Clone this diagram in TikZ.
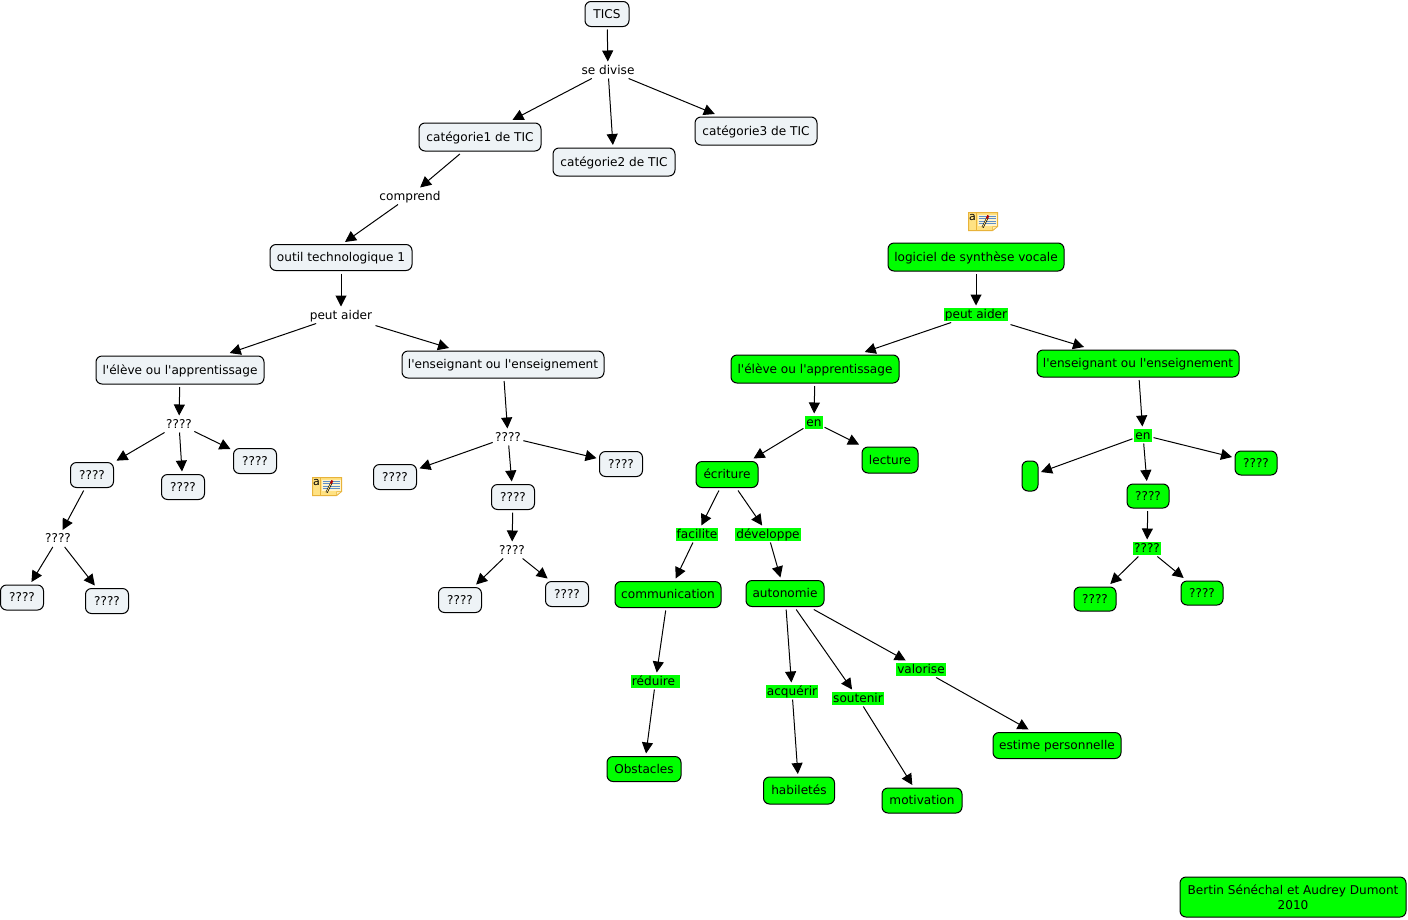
\documentclass[tikz,border=0pt]{standalone}
\usepackage{fontspec}
\setmainfont{DejaVu Sans}[Ligatures=TeXOff]
\usetikzlibrary{arrows.meta}
\definecolor{pale}{HTML}{EEF3F6}
\definecolor{vert}{HTML}{00FF00}
\definecolor{noteY}{HTML}{FFE283}
\definecolor{noteE}{HTML}{E8B33A}
\definecolor{noteL}{HTML}{5F8FC8}
\tikzset{
  x=1pt,y=-1pt,
  every node/.style={font=\fontsize{12.1}{15}\selectfont,text=black},
  concept/.style={draw=black,line width=1pt,rounded corners=6pt,inner sep=0pt,outer sep=3pt,minimum width=#1},
  palebox/.style={concept=#1,fill=pale,text height=9pt,text depth=.5pt},
  greenbox/.style={concept=#1,fill=vert,text height=9pt,text depth=.5pt},
  linkw/.style={inner sep=0pt,outer sep=2.5pt,minimum height=12pt,text height=9pt,text depth=.5pt},
  linkg/.style={fill=vert,inner sep=1pt,outer sep=2pt,minimum height=13pt,text height=9pt,text depth=.5pt},
  conn/.style={draw=black,line width=1pt,-{Triangle[length=11pt,width=11pt]}},
  gapstart/.style={shorten <=7pt},
}
\newcommand{\noteicon}[2]{%
  \begin{scope}[shift={(#1,#2)}]
    \fill[noteY,draw=noteE,line width=1pt] (0,0) -- (29,0) -- (29,14) -- (24,18) -- (0,18) -- cycle;
    \draw[noteE,line width=.6pt] (8,0) -- (8,18);
    \fill[white!60!noteY] (9,2) rectangle (28,13);
    \foreach \yy in {3.5,6,8.5,11}{\draw[noteL,line width=.7pt] (10,\yy) -- (27,\yy);}
    \draw[black,line width=2pt] (14,15) -- (19,5);
    \draw[noteY,line width=.8pt] (14,15) -- (19,5);
    \draw[red!70!black,line width=2.2pt] (18.4,6) -- (19.8,3);
    \fill[noteY!60!white,draw=noteE,line width=.5pt] (24,18) -- (24,14) -- (29,14) -- cycle;
    \node[inner sep=0pt,font=\fontsize{11}{11}\selectfont] at (4,4.8) {a};
  \end{scope}}
\begin{document}
\begin{tikzpicture}
\useasboundingbox (0,0) rectangle (1408,919);
% left map
\node[palebox=44pt,minimum height=25pt] (tics) at (607,14) {TICS};
\node[linkw] (sed) at (608,70) {se divise};
\node[palebox=122pt,minimum height=28pt] (cat1) at (480,137) {catégorie1 de TIC};
\node[palebox=122pt,minimum height=28pt] (cat2) at (614,162) {catégorie2 de TIC};
\node[palebox=122pt,minimum height=28pt] (cat3) at (756,131) {catégorie3 de TIC};
\node[linkw] (comp) at (410,196) {comprend};
\node[palebox=142pt,minimum height=26pt] (outil) at (341,257.5) {outil technologique 1};
\coordinate (outiltop) at (345,242);
\node[linkw] (peut1) at (341,315) {peut aider};
\node[palebox=168pt,minimum height=28pt] (el1) at (180,370) {l'élève ou l'apprentissage};
\node[palebox=202pt,minimum height=27pt] (en1) at (503,364.5) {l'enseignant ou l'enseignement};
\node[linkw] (q1) at (179,424) {????};
\node[palebox=43pt,minimum height=25pt] (b1) at (92,475) {????};
\node[palebox=43pt,minimum height=25pt] (b2) at (183,487) {????};
\node[palebox=43pt,minimum height=25pt] (b3) at (255,461) {????};
\node[linkw] (q2) at (58,538.5) {????};
\node[palebox=43pt,minimum height=25pt] (b4) at (22,597.5) {????};
\node[palebox=43pt,minimum height=25pt] (b5) at (107,601) {????};
\node[linkw] (q3) at (508,437) {????};
\node[palebox=43pt,minimum height=25pt] (b6) at (395,477) {????};
\node[palebox=43pt,minimum height=25pt] (b7) at (621,464) {????};
\node[palebox=43pt,minimum height=25pt] (b8) at (513,497) {????};
\node[linkw] (q4) at (512,550) {????};
\node[palebox=43pt,minimum height=25pt] (b9) at (460,600) {????};
\node[palebox=43pt,minimum height=25pt] (b10) at (567,594) {????};
\foreach \a/\b in {tics/sed,sed/cat1,sed/cat2,sed/cat3,cat1/comp,comp/outiltop,outil/peut1,peut1/el1,
  el1/q1,q1/b1,q1/b2,q1/b3,b1/q2,q2/b4,q2/b5,en1/q3,q3/b6,q3/b7,q3/b8,b8/q4,q4/b9,q4/b10}
  \draw[conn] (\a) -- (\b);
\draw[conn,gapstart] (peut1) -- (en1);
% right map
\node[greenbox=176pt,minimum height=28pt] (log) at (976,257) {logiciel de synthèse vocale};
\node[linkg] (peut2) at (976,314) {peut aider};
\node[greenbox=168pt,minimum height=28pt] (el2) at (815,369) {l'élève ou l'apprentissage};
\node[greenbox=202pt,minimum height=27pt] (ens2) at (1138,363.5) {l'enseignant ou l'enseignement};
\node[linkg] (e1) at (814,422) {en};
\node[greenbox=62pt,minimum height=26pt] (ecr) at (727,474.5) {écriture};
\node[greenbox=56pt,minimum height=26pt] (lec) at (890,460) {lecture};
\node[linkg] (fac) at (697,534) {facilite};
\node[linkg] (dev) at (768,534) {développe};
\node[greenbox=106pt,minimum height=26pt] (com) at (668,594.5) {communication};
\node[greenbox=78pt,minimum height=26pt] (aut) at (785,593.5) {autonomie};
\node[linkg] (red) at (655.5,681) {réduire\hspace*{4pt}};
\node[greenbox=74pt,minimum height=25pt] (obs) at (644,769) {Obstacles};
\node[linkg] (acq) at (792,691) {acquérir};
\node[linkg] (sou) at (858,698) {soutenir};
\node[linkg] (val) at (921,669) {valorise};
\node[greenbox=71pt,minimum height=27pt] (hab) at (799,790.5) {habiletés};
\node[greenbox=80pt,minimum height=25pt] (mot) at (922,800.5) {motivation};
\node[greenbox=128pt,minimum height=26pt] (est) at (1057,745.5) {estime personnelle};
\node[linkg] (e2) at (1143,435) {en};
\node[greenbox=16pt,minimum height=30pt] (vide) at (1030,476) {};
\node[greenbox=42pt,minimum height=24pt] (g1) at (1256,463) {????};
\node[greenbox=42pt,minimum height=24pt] (g2) at (1148,496) {????};
\node[linkg] (g3) at (1147,548) {????};
\node[greenbox=42pt,minimum height=24pt] (g4) at (1095,599) {????};
\node[greenbox=42pt,minimum height=24pt] (g5) at (1202,593) {????};
\node[concept=226pt,fill=vert,minimum height=40pt,align=center] (bert) at (1293,897) {Bertin Sénéchal et Audrey Dumont\\2010};
\foreach \a/\b in {log/peut2,peut2/el2,el2/e1,e1/ecr,e1/lec,ecr/fac,ecr/dev,fac/com,dev/aut,com/red,red/obs,
  aut/acq,aut/sou,aut/val,acq/hab,sou/mot,val/est,ens2/e2,e2/vide,e2/g1,e2/g2,g2/g3,g3/g4,g3/g5}
  \draw[conn] (\a) -- (\b);
\draw[conn,gapstart] (peut2) -- (ens2);
\noteicon{968.5}{212.5}
\noteicon{312.5}{477.5}
\end{tikzpicture}
\end{document}
